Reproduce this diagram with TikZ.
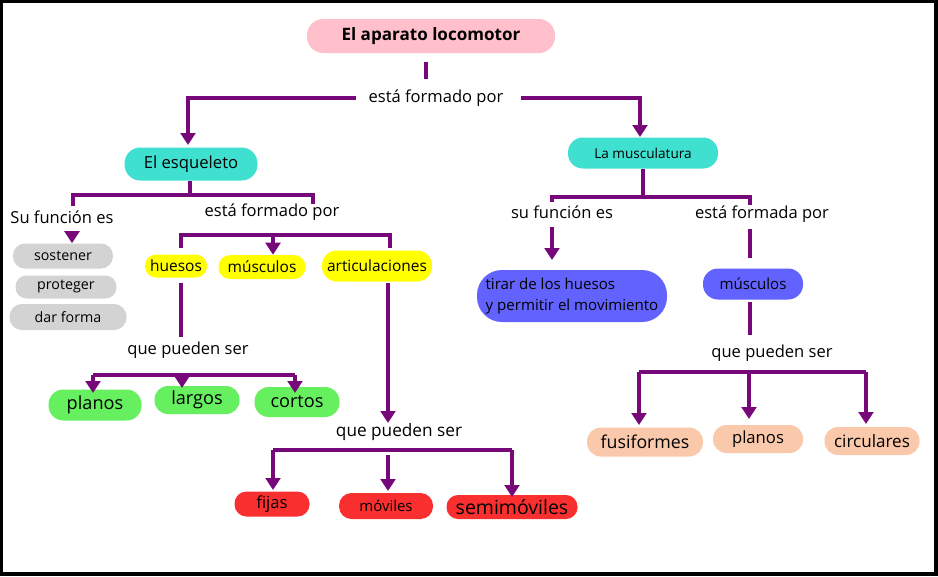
\documentclass[tikz,border=0pt]{standalone}
\usepackage{fontspec}
\setmainfont{Open Sans}
\usetikzlibrary{arrows.meta}
\definecolor{conn}{RGB}{118,8,122}
\definecolor{pinkc}{RGB}{255,192,203}
\definecolor{tealc}{RGB}{64,224,208}
\definecolor{greyc}{RGB}{211,211,211}
\definecolor{yelc}{RGB}{255,255,0}
\definecolor{grnc}{RGB}{102,240,96}
\definecolor{redc}{RGB}{250,48,48}
\definecolor{bluc}{RGB}{98,98,255}
\definecolor{peachc}{RGB}{250,200,170}
\tikzset{
  f/.style={font=\fontsize{#1pt}{#1pt}\selectfont},
  sz/.style 2 args={minimum width=#1*0.75pt, minimum height=#2*0.75pt, rounded corners=#2*0.36pt},
  pill/.style={fill=#1, inner sep=0pt, text=black},
  lbl/.style={inner sep=0pt, text=black},
  bar/.style={draw=conn, line width=3pt},
  arr/.style={draw=conn, line width=3pt, -{Triangle[width=11pt,length=9pt]}},
}
\begin{document}
\begin{tikzpicture}[x=0.75pt,y=-0.75pt]
\fill[black] (0,0) rectangle (938,576);
\fill[white] (3,3) rectangle (934,572);
\useasboundingbox (0,0) rectangle (938,576);

% boxes
\node[pill=pinkc, sz={248}{34}, font=\bfseries\fontsize{12.8pt}{12.8pt}\selectfont] (title) at (431,36) {El aparato locomotor};
\node[pill=tealc, sz={133}{33}, f=12.5] (esq) at (191,164) {El esqueleto};
\node[pill=tealc, sz={150}{31}, f=10.2] (mus) at (643,153) {La musculatura};
\node[pill=greyc, sz={100}{25}, f=10.7] (sost) at (63,256) {sostener};
\node[pill=greyc, sz={101}{23}, f=10.7] (prot) at (66,287) {proteger};
\node[pill=greyc, sz={117}{26}, f=10.7] (darf) at (68,317) {dar forma};
\node[pill=yelc, sz={62}{23}, f=11.6] (hue) at (176,266) {huesos};
\node[pill=yelc, sz={87}{24}, f=11.6] (musc) at (262,267) {músculos};
\node[pill=yelc, sz={110}{31}, f=11.6] (art) at (377,266) {articulaciones};
\node[pill=grnc, sz={93}{31}, f=13.6] (plan) at (95,405) {planos};
\node[pill=grnc, sz={85}{28}, f=13.6] (larg) at (197,400) {largos};
\node[pill=grnc, sz={85}{30}, f=13.6] (cort) at (297,402) {cortos};
\node[pill=redc, sz={75}{25}, f=12.5] (fij) at (272,504) {fijas};
\node[pill=redc, sz={94}{26}, f=11.2] (mov) at (386,506) {móviles};
\node[pill=redc, sz={131}{24}, f=14.6] (semi) at (512,507) {semimóviles};
\node[pill=bluc, sz={190}{52}, align=left, font=\fontsize{11.3pt}{15.75pt}\selectfont] (tir) at (572,296) {tirar de los huesos\\y permitir el movimiento};
\node[pill=bluc, sz={100}{31}, f=11.3] (mus2) at (753,284) {músculos};
\node[pill=peachc, sz={116}{29}, f=13.3] (fus) at (645,442) {fusiformes};
\node[pill=peachc, sz={90}{28}, f=12.5] (plan2) at (758,439) {planos};
\node[pill=peachc, sz={95}{28}, f=12.8] (circ) at (872,441) {circulares};

% labels
\node[lbl, f=12.4] (t1) at (436,98) {está formado por};
\node[lbl, f=12.4] (t2) at (62,217) {Su función es};
\node[lbl, f=12.4] (t3) at (272,212) {está formado por};
\node[lbl, f=12.4] (t4) at (188,350) {que pueden ser};
\node[lbl, f=12.9] (t5) at (399,432) {que pueden ser};
\node[lbl, f=12.4] (t6) at (562,212) {su función es};
\node[lbl, f=12.4] (t7) at (762,214) {está formada por};
\node[lbl, f=12.4] (t8) at (772,353) {que pueden ser};

% connectors: top
\draw[bar] (title.south -| 426,0) ++(0,9) coordinate (a0) -- ++(0,17) coordinate (a1);
\draw[arr] (t1.west) ++(-12,0) coordinate (a2) -| (188,145) coordinate (a3);
\draw[arr] (t1.east) ++(17,0) coordinate (a4) -| (640,137) coordinate (a5);

% esqueleto
\draw[bar] (esq.south -| 190,0) -- (190,195) coordinate (e0);
\draw[bar] (73,206) coordinate (e1) -- (73,195) -- (313,195) -- (313,204) coordinate (e2);
\draw[arr] (72,231) coordinate (e3) -- (sost.north -| 72,0);
\draw[bar] (181,248) coordinate (y1) -- (181,235) -- (390,235) -- (390,248) coordinate (y2);
\draw[arr] (273,235) coordinate (y3) -- (musc.north -| 273,0);
\draw[bar] (hue.south -| 181,0) ++(0,5) coordinate (h1) -- (181,337) coordinate (h2);
\draw[bar] (93,375) coordinate (g1) -- (295,375) coordinate (g2);
\draw[arr] (g1) -- (93,393);
\draw[arr] (182,375) coordinate (g3) -- (182,388);
\draw[arr] (g2) -- (295,393);
\draw[arr] (art.south -| 388,0) ++(0,1) coordinate (r0) -- (388,423) coordinate (r1);
\draw[bar] (273,450) coordinate (r2) -- (512,450) coordinate (r3);
\draw[arr] (r2) -- (273,490);
\draw[arr] (r3) -- (512,497);
\draw[arr] (388,455) coordinate (r4) -- (388,491);

% musculatura
\draw[bar] (mus.south -| 643,0) -- (643,197) coordinate (m0);
\draw[bar] (552,202) coordinate (m1) -- (552,197) -- (750,197) -- (750,205) coordinate (m2);
\draw[arr] (552,227) coordinate (m3) -- (552,260);
\draw[bar] (750,229) coordinate (m4) -- (750,258);
\draw[bar] (mus2.south -| 750,0) ++(0,2) coordinate (m5) -- (750,335);
\draw[bar] (639,372) coordinate (o1) -- (866,372) coordinate (o2);
\draw[arr] (o1) -- (639,425);
\draw[arr] (749,372) coordinate (o3) -- (749,419);
\draw[arr] (o2) -- (866,424);
\end{tikzpicture}
\end{document}
